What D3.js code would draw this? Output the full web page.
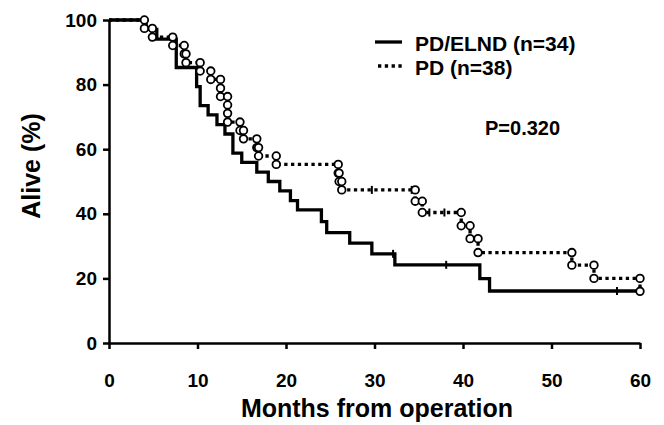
<!DOCTYPE html>
<html lang="en">
<head>
<meta charset="utf-8">
<script src="https://d3js.org/d3.v7.min.js"></script>
<style>
  body {margin:0; background:#fff;}
  svg {display:block; font-family:"Liberation Sans", Arial, sans-serif; font-weight:bold;}
  .axis path, .axis line {stroke:#000; stroke-width:2.5;}
  .axis text {font-size:19px; font-weight:bold; fill:#000; font-family:"Liberation Sans", Arial, sans-serif;}
</style>
</head>
<body>
<script>
// PD/ELND (n=34), solid line: death times (months) and survival after each death (%)
let elndTimes = [4.2, 5.4, 7.6, 7.6, 7.6, 9.9, 9.9, 10.3, 10.3, 11.2, 12.2, 13.1, 14.0, 14.0, 15.0, 16.7, 18.0, 19.3, 20.5, 21.3, 24.0, 24.6, 27.2, 29.7, 32.3, 41.9, 43.0];
let elndSurv  = [97.1, 94.1, 91.2, 88.2, 85.3, 82.4, 79.4, 76.5, 73.5, 70.6, 67.6, 64.7, 61.8, 58.8, 55.9, 52.9, 50.0, 47.1, 44.1, 41.2, 37.6, 34.2, 30.9, 27.6, 24.2, 19.9, 16.1];
let elndCensor = [32.1, 38.1, 57.4];

// PD (n=38), dotted line with circles
let pdTimes = [4.0, 4.9, 7.2, 8.5, 8.7, 10.3, 11.5, 12.6, 12.6, 13.4, 13.4, 13.4, 14.8, 15.2, 16.7, 16.9, 18.9, 25.9, 26.0, 26.3, 34.6, 35.4, 39.8, 40.8, 41.7, 52.3, 54.8, 60.0];
let pdSurv  = [97.4, 94.7, 92.1, 89.5, 86.8, 84.2, 81.6, 78.9, 76.3, 73.7, 71.1, 68.4, 65.8, 63.2, 60.5, 57.9, 55.3, 52.6, 50.0, 47.4, 43.9, 40.4, 36.3, 32.3, 28.0, 24.1, 20.0, 16.0];
let pdCensor = [29.7, 34.2, 36.2, 37.9];

let xTicks = [0, 10, 20, 30, 40, 50, 60];
let yTicks = [0, 20, 40, 60, 80, 100];

let svg = d3.select("body").append("svg")
  .attr("width", 664)
  .attr("height", 425);

let x = d3.scaleLinear().domain([0, 60]).range([109, 640]);
let y = d3.scaleLinear().domain([0, 100]).range([343, 20]);

// step curve points
function steps(times, surv) {
  let pts = [[0, 100]];
  let prev = 100;
  times.forEach((t, i) => {
    pts.push([t, prev]);
    pts.push([t, surv[i]]);
    prev = surv[i];
  });
  pts.push([60, prev]);
  return pts;
}
function levelAt(times, surv, t) {
  let s = 100;
  times.forEach((tt, i) => { if (tt <= t) s = surv[i]; });
  return s;
}

let line = d3.line().x(d => x(d[0])).y(d => y(d[1]));

// axes
svg.append("g")
  .attr("class", "axis")
  .attr("transform", "translate(0,343)")
  .call(d3.axisBottom(x).tickValues(xTicks).tickSize(6).tickSizeOuter(0).tickPadding(25));

svg.append("g")
  .attr("class", "axis")
  .attr("transform", "translate(109,0)")
  .call(d3.axisLeft(y).tickValues(yTicks).tickSize(6).tickSizeOuter(0).tickPadding(6));

// axis titles
svg.append("text")
  .attr("x", 377).attr("y", 417)
  .attr("text-anchor", "middle")
  .style("font-size", "25px")
  .text("Months from operation");

svg.append("text")
  .attr("transform", "translate(40,166) rotate(-90)")
  .attr("text-anchor", "middle")
  .style("font-size", "25px")
  .text("Alive (%)");

// solid curve
svg.append("path")
  .attr("d", line(steps(elndTimes, elndSurv)))
  .attr("fill", "none")
  .attr("stroke", "#000")
  .attr("stroke-width", 3.3);

svg.selectAll(".elnd-censor")
  .data(elndCensor)
  .enter().append("line")
  .attr("x1", d => x(d)).attr("x2", d => x(d))
  .attr("y1", d => y(levelAt(elndTimes, elndSurv, d)) - 4)
  .attr("y2", d => y(levelAt(elndTimes, elndSurv, d)) + 4)
  .attr("stroke", "#000")
  .attr("stroke-width", 2);

// dotted curve
svg.append("path")
  .attr("d", line(steps(pdTimes, pdSurv)))
  .attr("fill", "none")
  .attr("stroke", "#000")
  .attr("stroke-width", 3.3)
  .attr("stroke-dasharray", "3.3,3.5");

svg.selectAll(".pd-censor")
  .data(pdCensor)
  .enter().append("line")
  .attr("x1", d => x(d)).attr("x2", d => x(d))
  .attr("y1", d => y(levelAt(pdTimes, pdSurv, d)) - 4)
  .attr("y2", d => y(levelAt(pdTimes, pdSurv, d)) + 4)
  .attr("stroke", "#000")
  .attr("stroke-width", 2);

// circles at each step corner of the PD curve
let marks = [];
let prev = 100;
pdTimes.forEach((t, i) => {
  let key = t + ":" + prev;
  if (!marks.some(m => m.key === key)) marks.push({key: key, t: t, s: prev});
  marks.push({key: t + ":" + pdSurv[i], t: t, s: pdSurv[i]});
  prev = pdSurv[i];
});

svg.selectAll(".pd-mark")
  .data(marks)
  .enter().append("circle")
  .attr("cx", d => x(d.t))
  .attr("cy", d => y(d.s))
  .attr("r", 3.8)
  .attr("fill", "#fff")
  .attr("stroke", "#000")
  .attr("stroke-width", 1.8);

// legend
let legend = svg.append("g");
legend.append("line")
  .attr("x1", 375).attr("x2", 402).attr("y1", 42).attr("y2", 42)
  .attr("stroke", "#000").attr("stroke-width", 3.3);
legend.append("line")
  .attr("x1", 378).attr("x2", 402).attr("y1", 66).attr("y2", 66)
  .attr("stroke", "#000").attr("stroke-width", 3.3)
  .attr("stroke-dasharray", "3.3,3.5");
legend.append("text")
  .attr("x", 415).attr("y", 51)
  .style("font-size", "21px")
  .text("PD/ELND (n=34)");
legend.append("text")
  .attr("x", 415).attr("y", 75)
  .style("font-size", "21px")
  .text("PD (n=38)");

svg.append("text")
  .attr("x", 485).attr("y", 135)
  .style("font-size", "20px")
  .text("P=0.320");
</script>
</body>
</html>
